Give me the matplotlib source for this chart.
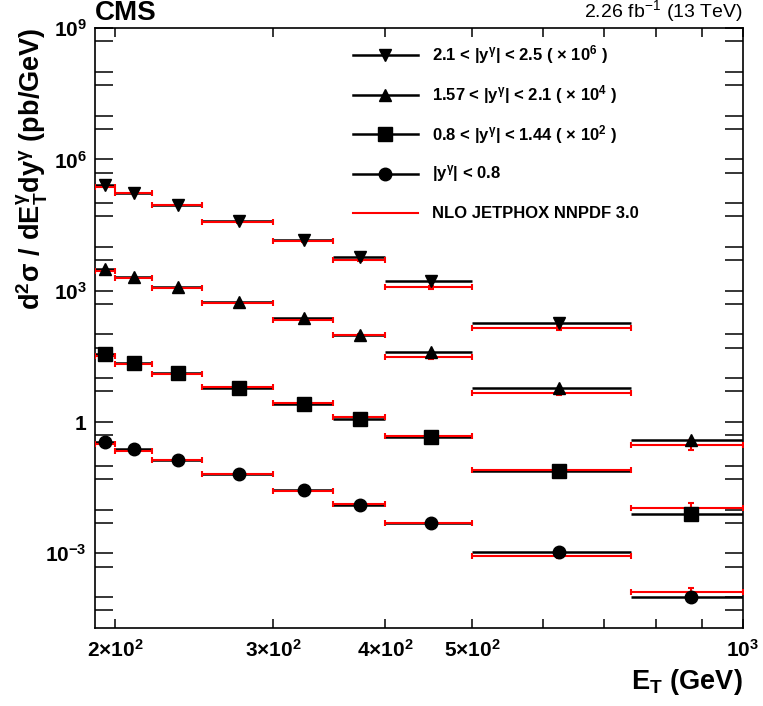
import numpy as np
import matplotlib
matplotlib.use('Agg')
import matplotlib.pyplot as plt
from matplotlib.ticker import FixedLocator, NullLocator

plt.rcParams['font.family'] = 'Liberation Sans'
plt.rcParams['font.weight'] = 'bold'
plt.rcParams['mathtext.fontset'] = 'custom'
plt.rcParams['mathtext.rm'] = 'Liberation Sans:bold'
plt.rcParams['mathtext.bf'] = 'Liberation Sans:bold'
plt.rcParams['mathtext.it'] = 'Liberation Sans:bold'
plt.rcParams['mathtext.sf'] = 'Liberation Sans:regular'

# photon E_T bin edges (GeV)
et_edges = [190, 200, 220, 250, 300, 350, 400, 500, 750, 1000]

# measured cross sections d2sigma/dEt dy (pb/GeV), unscaled
xs_eta0 = [0.349, 0.246, 0.138, 0.0659, 0.0280, 0.0125, 0.00493, 0.00107, 0.000099]
xs_eta1 = [0.352, 0.226, 0.134, 0.0589, 0.0262, 0.0119, 0.00462, 0.000760, 0.0000792]
xs_eta2 = [0.3076, 0.2084, 0.1194, 0.0542, 0.0238, 0.00986, 0.00397, 0.000607, 0.0000382]
xs_eta3 = [0.259, 0.170, 0.0905, 0.0384, 0.0141, 0.00578, 0.00166, 0.000182]

# NLO JETPHOX NNPDF 3.0 predictions
nlo_eta0 = [0.310, 0.221, 0.133, 0.0639, 0.0265, 0.0136, 0.00493, 0.00087, 0.000131]
nlo_eta1 = [0.322, 0.215, 0.127, 0.0630, 0.0276, 0.0132, 0.00479, 0.000813, 0.0001102]
nlo_eta2 = [0.2858, 0.1946, 0.1150, 0.0531, 0.0214, 0.00956, 0.00305, 0.000459, 0.0000303]
nlo_eta3 = [0.239, 0.166, 0.089, 0.0370, 0.0136, 0.00501, 0.00121, 0.000140]

# relative theory uncertainty per bin
nlo_unc = [0.04, 0.04, 0.04, 0.05, 0.05, 0.06, 0.08, 0.12, 0.25]

scales = [1, 1e2, 1e4, 1e6]
markers = ['o', 's', '^', 'v']
labels = [r'|y$^{\gamma}$| < 0.8',
          r'0.8 < |y$^{\gamma}$| < 1.44 ( $\times$ 10$^{2}$ )',
          r'1.57 < |y$^{\gamma}$| < 2.1 ( $\times$ 10$^{4}$ )',
          r'2.1 < |y$^{\gamma}$| < 2.5 ( $\times$ 10$^{6}$ )']
msizes = [9, 10, 8.5, 8.5]

fig = plt.figure(figsize=(7.63, 7.06), dpi=100)
ax = fig.add_axes([0.1245, 0.1109, 0.8489, 0.8494])
ax.set_xscale('log')
ax.set_yscale('log')

edges = np.array(et_edges, dtype=float)
data_sets = [xs_eta0, xs_eta1, xs_eta2, xs_eta3]
nlo_sets = [nlo_eta0, nlo_eta1, nlo_eta2, nlo_eta3]

for data, nlo, sc, mk, ms in zip(data_sets, nlo_sets, scales, markers, msizes):
    n = len(data)
    lo = edges[:n]
    hi = edges[1:n + 1]
    xc = (lo + hi) / 2
    yd = np.array(data) * sc
    yt = np.array(nlo) * sc
    ax.hlines(yd, lo, hi, colors='black', lw=1.8, zorder=2)
    ax.errorbar(xc, yt, xerr=[xc - lo, hi - xc], yerr=np.array(nlo_unc[:n]) * yt,
                fmt='none', ecolor='red', elinewidth=1.5, capsize=2,
                capthick=1.5, zorder=3)
    ax.plot(xc, yd, ls='none', marker=mk, color='black', ms=ms, zorder=4)

ax.set_xlim(190, 1000)
ax.set_ylim(2e-5, 1e9)

# ticks
xt = list(range(200, 1001, 100))
xlab = {200: r'$\mathbf{2{\times}10^{2}}$', 300: r'$\mathbf{3{\times}10^{2}}$',
        400: r'$\mathbf{4{\times}10^{2}}$', 500: r'$\mathbf{5{\times}10^{2}}$',
        1000: r'$\mathbf{10^{3}}$'}
ax.xaxis.set_major_locator(FixedLocator(xt))
ax.xaxis.set_minor_locator(NullLocator())
ax.set_xticklabels([xlab.get(v, '') for v in xt])

yt_vals = [m * 10.0 ** e for e in range(-5, 10) for m in (1, 5)]
yt_vals = [v for v in yt_vals if 2e-5 <= v <= 1e9]
ylab = {9: r'$\mathbf{10^{9}}$', 6: r'$\mathbf{10^{6}}$', 3: r'$\mathbf{10^{3}}$',
        0: '1', -3: r'$\mathbf{10^{-3}}$'}
ax.yaxis.set_major_locator(FixedLocator(yt_vals))
ax.yaxis.set_minor_locator(NullLocator())
ax.set_yticklabels([ylab.get(int(round(np.log10(v))), '') if abs(np.log10(v) - round(np.log10(v))) < 1e-6 else ''
                    for v in yt_vals])

ax.tick_params(which='both', direction='in', top=True, right=True, labelsize=15, width=1.1)
ax.tick_params(axis='x', length=6.5, pad=8)
ax.tick_params(axis='y', length=13, pad=6)
for sp in ax.spines.values():
    sp.set_linewidth(1.2)

ax.set_xlabel(r'$\mathbf{E_{T}\ (GeV)}$', fontsize=19.5, loc='right')
ax.xaxis.set_label_coords(1.0, -0.065)
ax.set_ylabel(r'$\mathbf{d^{2}\sigma\ /\ dE_{T}^{\gamma}dy^{\gamma}\ (pb/GeV)}$', fontsize=19.5, loc='top')
ax.yaxis.set_label_coords(-0.07, 1.0)

ax.text(0.0, 1.004, 'CMS', transform=ax.transAxes, fontsize=20, fontweight='bold',
        ha='left', va='bottom')
ax.text(1.0, 1.006, r'$\mathsf{2.26\ fb^{-1}\ (13\ TeV)}$', transform=ax.transAxes,
        fontsize=14, ha='right', va='bottom')

# legend drawn by hand, ROOT style
leg_y0 = 0.955
leg_dy = 0.0659
rows = [(markers[3], labels[3], msizes[3]), (markers[2], labels[2], msizes[2]),
        (markers[1], labels[1], msizes[1]), (markers[0], labels[0], msizes[0])]
for i, (mk, lab, ms) in enumerate(rows):
    yy = leg_y0 - i * leg_dy
    ax.plot([0.398, 0.499], [yy, yy], color='black', lw=1.8, transform=ax.transAxes)
    ax.plot([0.4485], [yy], marker=mk, color='black', ms=ms, transform=ax.transAxes)
    ax.text(0.52, yy, lab, transform=ax.transAxes, fontsize=12, va='center', ha='left')
yy = leg_y0 - 4 * leg_dy
ax.plot([0.398, 0.499], [yy, yy], color='red', lw=1.5, transform=ax.transAxes)
ax.text(0.52, yy, 'NLO JETPHOX NNPDF 3.0', transform=ax.transAxes, fontsize=12,
        fontweight='bold', va='center', ha='left')

fig.savefig('out.png', dpi=100)
